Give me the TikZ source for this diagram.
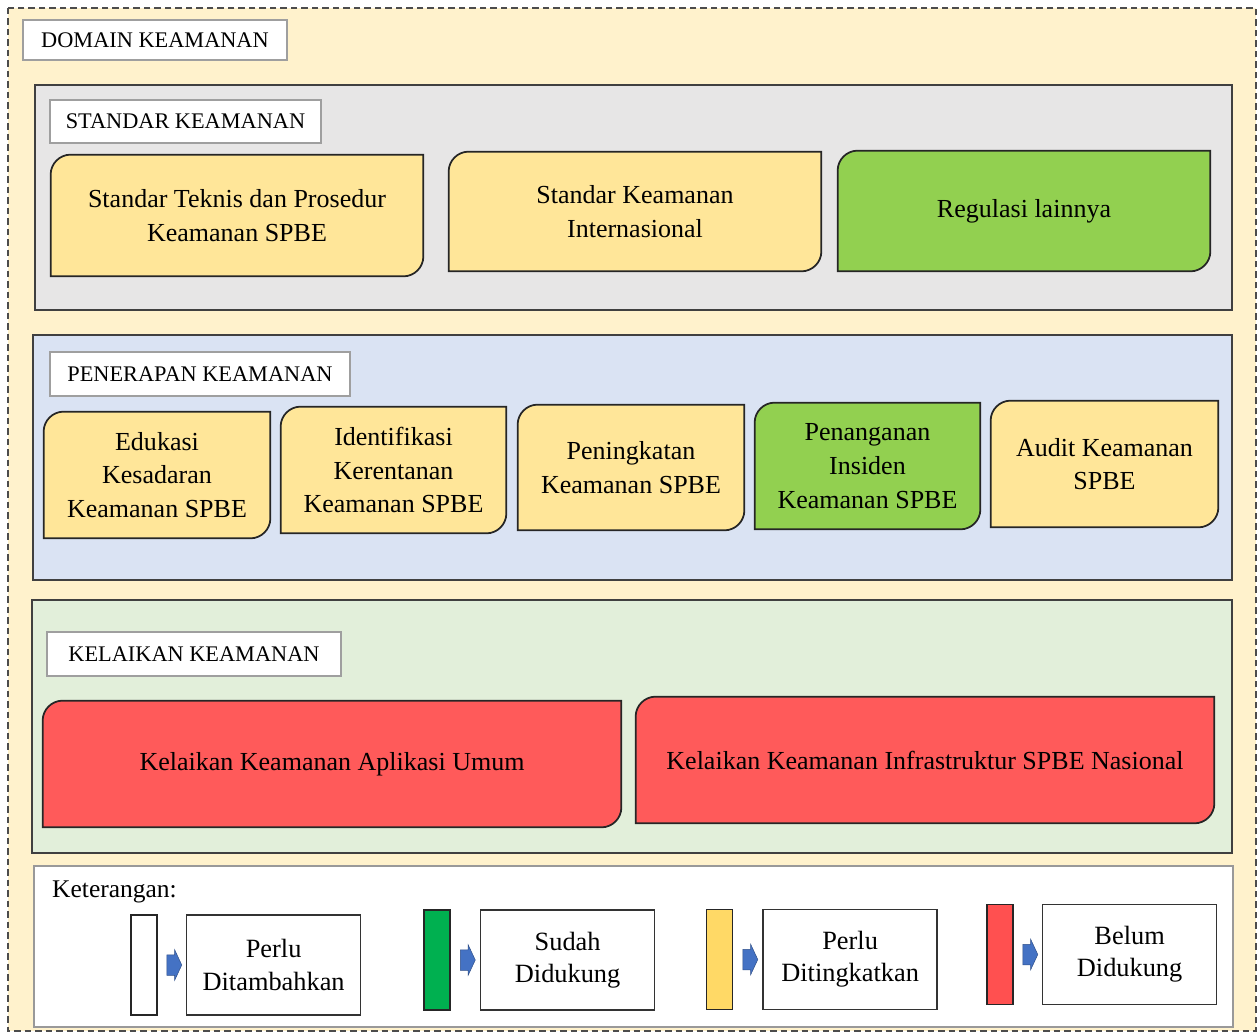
\documentclass[tikz,border=0pt]{standalone}
\usepackage{fontspec}
\setmainfont{Liberation Serif}
\usepackage{xcolor}
\usetikzlibrary{positioning, shapes.arrows, calc}

\definecolor{cream}{HTML}{FFF2CC}
\definecolor{panelgray}{HTML}{E7E6E6}
\definecolor{panelblue}{HTML}{DAE3F3}
\definecolor{panelgreen}{HTML}{E2EFDA}
\definecolor{boxyellow}{HTML}{FFE699}
\definecolor{boxgreen}{HTML}{92D050}
\definecolor{boxred}{HTML}{FF5A5A}
\definecolor{bargreen}{HTML}{00B050}
\definecolor{baryellow}{HTML}{FFD966}
\definecolor{barred}{HTML}{FF5050}
\definecolor{arrowblue}{HTML}{4472C4}

\pgfdeclarelayer{panels}
\pgfdeclarelayer{shapes}
\pgfsetlayers{panels,shapes,main}

\tikzset{
  panel/.style={draw=black!75, line width=0.4mm},
  tag/.style={draw=gray!75, fill=white, line width=0.25mm, inner sep=0pt, font=\fontsize{12.7}{15}\selectfont},
  item/.style={align=center, inner sep=0pt, text=black, font=\fontsize{14.8}{19.2}\selectfont},
  legbar/.style={draw=black!85, line width=0.35mm, minimum width=5.2mm, minimum height=20mm, inner sep=0pt},
  legbox/.style={draw=black!80, line width=0.3mm, fill=white, minimum width=34.8mm, minimum height=20mm, align=center, font=\fontsize{15}{18.4}\selectfont},
  legarrow/.style={single arrow, fill=arrowblue, draw=arrowblue!70!black, line width=0.1mm, minimum height=3mm, inner xsep=0pt, inner ysep=2mm, single arrow head extend=1mm, single arrow tip angle=130}
}

% box with round top-left and bottom-right corners
\newcommand{\leaf}[2]{%
  \filldraw[fill=#2, draw=black!85, line width=0.35mm]
    ([yshift=-4mm]#1.north west) arc[start angle=180, end angle=90, radius=4mm]
    -- (#1.north east) -- ([yshift=4mm]#1.south east)
    arc[start angle=0, end angle=-90, radius=4mm] -- (#1.south west) -- cycle;}

\begin{document}
\begin{tikzpicture}[x=0.2mm, y=-0.2mm]

\useasboundingbox (0,0) rectangle (1260,1032);

\begin{pgfonlayer}{panels}
\draw[fill=cream, draw=black!70, dash pattern=on 1.3mm off 0.8mm, line width=0.3mm] (8,8) rectangle (1256,1031);
\draw[panel, fill=panelgray] (35,85) rectangle (1232,310);
\draw[panel, fill=panelblue] (33,335) rectangle (1232,580);
\draw[panel, fill=panelgreen] (32,600) rectangle (1232,853);
\draw[draw=gray!80, line width=0.3mm, fill=white] (34,866) rectangle (1233,1027);
\end{pgfonlayer}

\node[tag, minimum width=52.8mm, minimum height=8mm] (domain) at (155,40) {DOMAIN KEAMANAN};

% standar
\node[tag, minimum width=54.2mm, minimum height=8.6mm] (standar) at (185.5,121.5) {STANDAR KEAMANAN};
\node[item, minimum width=74.4mm, minimum height=24.2mm] (st1) at (237,215.5) {Standar Teknis dan Prosedur\\Keamanan SPBE};
\node[item, minimum width=74.4mm, minimum height=23.8mm] (st2) at (635,211.5) {Standar Keamanan\\Internasional};
\node[item, minimum width=74.4mm, minimum height=24mm] (st3) at (1024,211) {Regulasi lainnya};

% penerapan
\node[tag, minimum width=60mm, minimum height=8.8mm] (penerapan) at (200,374) {PENERAPAN KEAMANAN};
\node[item, minimum width=45.2mm, minimum height=25.2mm] (pn1) at (157,475) {Edukasi\\Kesadaran\\Keamanan SPBE};
\node[item, minimum width=45mm, minimum height=25.2mm] (pn2) at (393.5,470) {Identifikasi\\Kerentanan\\Keamanan SPBE};
\node[item, minimum width=45.2mm, minimum height=25mm] (pn3) at (631,467.5) {Peningkatan\\Keamanan SPBE};
\node[item, minimum width=45mm, minimum height=25.2mm] (pn4) at (867.5,466) {Penanganan\\Insiden\\Keamanan SPBE};
\node[item, minimum width=45.4mm, minimum height=25.2mm] (pn5) at (1104.5,464) {Audit Keamanan\\SPBE};

% kelaikan
\node[tag, minimum width=58.8mm, minimum height=8.8mm] (kelaikan) at (194,654) {KELAIKAN KEAMANAN};
\node[item, minimum width=115.6mm, minimum height=25.2mm] (kl1) at (332,764) {Kelaikan Keamanan Aplikasi Umum};
\node[item, minimum width=115.6mm, minimum height=25.2mm] (kl2) at (925,760) {Kelaikan Keamanan Infrastruktur SPBE Nasional};

\begin{pgfonlayer}{shapes}
\foreach \n/\c in {st1/boxyellow, st2/boxyellow, st3/boxgreen,
                   pn1/boxyellow, pn2/boxyellow, pn3/boxyellow, pn4/boxgreen, pn5/boxyellow,
                   kl1/boxred, kl2/boxred}
  {\leaf{\n}{\c}}
\end{pgfonlayer}

% keterangan
\node[anchor=base west, font=\fontsize{14.5}{17}\selectfont] (ket) at (46,897) {Keterangan:};

\node[legbar, fill=white] (bar1) at (144,965) {};
\node[legbox, right=5.6mm of bar1] (lb1) {Perlu\\Ditambahkan};
\node[legarrow] (ar1) at ($(bar1.east)!0.5!(lb1.west)$) {};

\node[legbar, fill=bargreen] (bar2) at (437,960) {};
\node[legbox, right=5.8mm of bar2] (lb2) {Sudah\\Didukung};
\node[legarrow] (ar2) at ($(bar2.east)!0.5!(lb2.west)$) {};

\node[legbar, fill=baryellow] (bar3) at (719.5,959.5) {};
\node[legbox, right=5.8mm of bar3] (lb3) {Perlu\\Ditingkatkan};
\node[legarrow] (ar3) at ($(bar3.east)!0.5!(lb3.west)$) {};

\node[legbar, fill=barred] (bar4) at (1000,954.5) {};
\node[legbox, right=5.6mm of bar4] (lb4) {Belum\\Didukung};
\node[legarrow] (ar4) at ($(bar4.east)!0.5!(lb4.west)$) {};

\end{tikzpicture}
\end{document}
